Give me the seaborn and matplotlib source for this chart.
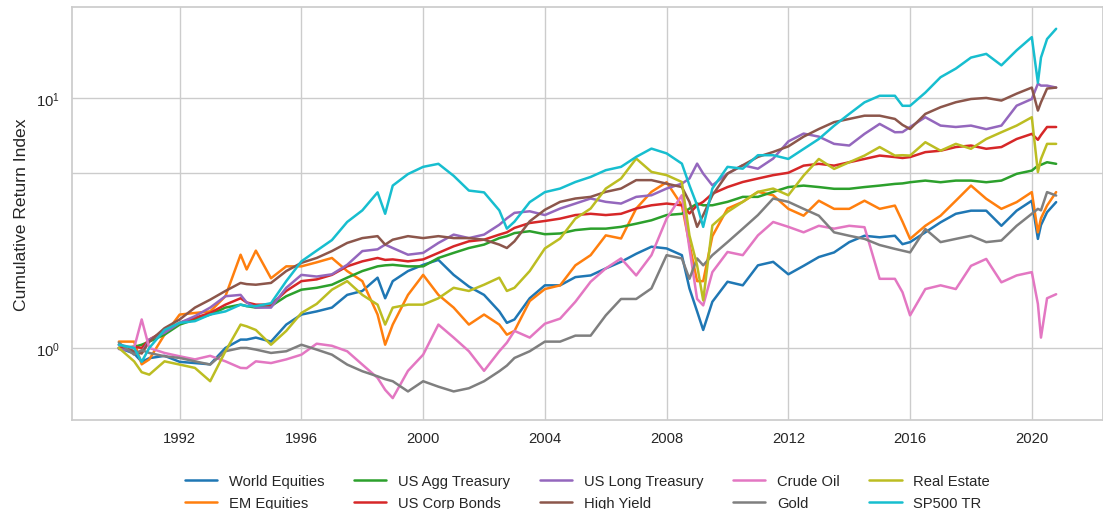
import pandas as pd
import seaborn as sns
import matplotlib.pyplot as plt
import matplotlib.dates as mdates
from matplotlib.ticker import FixedLocator, NullFormatter

# sample dates (decimal years)
years = [1990.0, 1990.5, 1990.75, 1991.0, 1991.5, 1992.0, 1992.5, 1993.0, 1993.5,
         1994.0, 1994.2, 1994.5, 1995.0, 1995.5, 1996.0, 1996.5, 1997.0, 1997.5, 1998.0,
         1998.5, 1998.75, 1999.0, 1999.5, 2000.0, 2000.5, 2001.0, 2001.5, 2002.0, 2002.5, 2002.75,
         2003.0, 2003.5, 2004.0, 2004.5, 2005.0, 2005.5, 2006.0, 2006.5, 2007.0, 2007.5, 2008.0, 2008.5,
         2008.75, 2009.0, 2009.2, 2009.5, 2010.0, 2010.5, 2011.0, 2011.5, 2012.0, 2012.5,
         2013.0, 2013.5, 2014.0, 2014.5, 2015.0, 2015.5, 2015.75, 2016.0, 2016.5, 2017.0, 2017.5,
         2018.0, 2018.5, 2019.0, 2019.5, 2020.0, 2020.2, 2020.3, 2020.5, 2020.8]

world_equities = [1.00, 0.95, 0.88, 0.91, 0.93, 0.88, 0.87, 0.86, 1.00,
                  1.08, 1.08, 1.10, 1.06, 1.24, 1.36, 1.40, 1.45, 1.63, 1.69,
                  1.91, 1.58, 1.85, 2.03, 2.15, 2.25, 1.96, 1.76, 1.63, 1.40, 1.26,
                  1.30, 1.58, 1.78, 1.78, 1.92, 1.95, 2.08, 2.21, 2.38, 2.54, 2.50, 2.35,
                  1.73, 1.40, 1.18, 1.53, 1.84, 1.78, 2.14, 2.21, 1.97, 2.13,
                  2.31, 2.41, 2.65, 2.81, 2.77, 2.81, 2.60, 2.65, 2.90, 3.18, 3.44,
                  3.54, 3.54, 3.08, 3.54, 3.88, 2.73, 3.10, 3.49, 3.83]
em_equities = [1.06, 1.06, 0.86, 0.90, 1.13, 1.36, 1.38, 1.40, 1.61,
               2.36, 2.06, 2.45, 1.90, 2.12, 2.12, 2.20, 2.29, 2.03, 1.85,
               1.36, 1.03, 1.24, 1.63, 1.96, 1.63, 1.45, 1.24, 1.36, 1.24, 1.13,
               1.17, 1.54, 1.72, 1.78, 2.14, 2.35, 2.82, 2.74, 3.61, 4.21, 4.60, 3.72,
               2.60, 1.85, 1.85, 2.80, 3.61, 3.84, 4.21, 4.08, 3.60, 3.38,
               3.88, 3.60, 3.60, 3.88, 3.60, 3.71, 3.20, 2.73, 3.08, 3.38, 3.88,
               4.46, 3.95, 3.60, 3.83, 4.20, 2.90, 3.30, 3.71, 4.20]
us_agg_treasury = [1.00, 1.01, 1.03, 1.06, 1.13, 1.24, 1.30, 1.36, 1.45,
                   1.49, 1.47, 1.45, 1.47, 1.61, 1.71, 1.74, 1.79, 1.91, 2.03,
                   2.12, 2.14, 2.15, 2.12, 2.12, 2.29, 2.40, 2.51, 2.59, 2.75, 2.80,
                   2.88, 2.93, 2.85, 2.87, 2.96, 3.00, 3.00, 3.05, 3.14, 3.24, 3.40, 3.44,
                   3.61, 3.78, 3.72, 3.72, 3.84, 4.02, 4.02, 4.21, 4.40, 4.46,
                   4.40, 4.33, 4.33, 4.40, 4.46, 4.53, 4.55, 4.60, 4.67, 4.60, 4.67,
                   4.67, 4.60, 4.67, 4.97, 5.12, 5.36, 5.40, 5.53, 5.45]
us_corp_bonds = [1.00, 1.01, 1.00, 1.08, 1.17, 1.26, 1.32, 1.38, 1.49,
                 1.58, 1.52, 1.49, 1.49, 1.69, 1.85, 1.88, 1.96, 2.12, 2.22,
                 2.29, 2.25, 2.26, 2.22, 2.26, 2.40, 2.55, 2.67, 2.71, 2.84, 2.90,
                 3.02, 3.16, 3.22, 3.29, 3.40, 3.44, 3.40, 3.44, 3.61, 3.72, 3.78, 3.72,
                 3.45, 3.72, 3.84, 4.14, 4.40, 4.61, 4.76, 4.91, 5.02, 5.36,
                 5.45, 5.36, 5.53, 5.70, 5.88, 5.80, 5.75, 5.80, 6.07, 6.15, 6.36,
                 6.45, 6.26, 6.36, 6.85, 7.18, 6.80, 7.10, 7.65, 7.65]
us_long_treasury = [0.99, 0.97, 0.955, 1.08, 1.15, 1.26, 1.34, 1.45, 1.61,
                    1.63, 1.52, 1.45, 1.45, 1.74, 1.96, 1.93, 1.97, 2.15, 2.44,
                    2.48, 2.59, 2.51, 2.36, 2.40, 2.63, 2.84, 2.75, 2.84, 3.11, 3.30,
                    3.47, 3.52, 3.40, 3.61, 3.78, 3.96, 3.84, 3.78, 4.02, 4.08, 4.34, 4.54,
                    4.76, 5.46, 4.98, 4.47, 4.98, 5.38, 5.21, 5.72, 6.70, 7.20,
                    7.00, 6.55, 6.45, 7.18, 7.87, 7.29, 7.30, 7.65, 8.37, 7.75, 7.65,
                    7.75, 7.50, 7.75, 9.31, 9.90, 11.4, 11.2, 11.2, 11.0]
high_yield = [1.03, 0.97, 0.95, 1.06, 1.20, 1.30, 1.45, 1.56, 1.69,
              1.82, 1.80, 1.79, 1.82, 2.03, 2.19, 2.29, 2.44, 2.63, 2.75,
              2.80, 2.59, 2.71, 2.80, 2.75, 2.80, 2.75, 2.75, 2.71, 2.59, 2.51,
              2.67, 3.21, 3.57, 3.84, 3.96, 4.02, 4.21, 4.34, 4.69, 4.69, 4.54, 4.40,
              3.84, 3.05, 3.40, 4.08, 4.98, 5.38, 5.81, 6.08, 6.40, 7.00,
              7.51, 8.00, 8.24, 8.49, 8.49, 8.24, 7.80, 7.51, 8.63, 9.18, 9.61,
              9.90, 10.0, 9.76, 10.4, 11.0, 8.90, 9.60, 10.9, 11.0]
crude_oil = [1.03, 1.00, 1.30, 1.00, 0.955, 0.926, 0.90, 0.93, 0.884,
             0.832, 0.83, 0.884, 0.87, 0.90, 0.94, 1.04, 1.02, 0.97, 0.858,
             0.759, 0.68, 0.63, 0.81, 0.94, 1.24, 1.10, 0.97, 0.81, 0.97, 1.05,
             1.17, 1.10, 1.25, 1.31, 1.53, 1.84, 2.08, 2.28, 1.95, 2.35, 3.29, 4.08,
             2.50, 1.57, 1.48, 2.01, 2.42, 2.35, 2.82, 3.19, 3.05, 2.90,
             3.08, 3.00, 3.08, 3.04, 1.89, 1.89, 1.67, 1.35, 1.72, 1.78, 1.72,
             2.13, 2.27, 1.83, 1.95, 2.01, 1.50, 1.10, 1.58, 1.64]
gold = [1.05, 0.94, 0.98, 0.955, 0.926, 0.912, 0.884, 0.858, 0.97,
        1.00, 1.00, 0.985, 0.955, 0.97, 1.03, 0.985, 0.94, 0.858, 0.807,
        0.77, 0.75, 0.736, 0.67, 0.736, 0.70, 0.67, 0.69, 0.736, 0.807, 0.85,
        0.912, 0.97, 1.06, 1.06, 1.12, 1.12, 1.35, 1.57, 1.57, 1.73, 2.35, 2.28,
        1.89, 2.28, 2.14, 2.35, 2.65, 3.00, 3.40, 3.96, 3.84, 3.60,
        3.38, 2.90, 2.81, 2.73, 2.58, 2.49, 2.45, 2.41, 2.99, 2.65, 2.73,
        2.81, 2.65, 2.69, 3.08, 3.44, 3.60, 3.55, 4.20, 4.07]
real_estate = [1.00, 0.884, 0.80, 0.782, 0.884, 0.858, 0.832, 0.736, 0.97,
               1.24, 1.22, 1.18, 1.03, 1.17, 1.38, 1.50, 1.71, 1.85, 1.63,
               1.49, 1.24, 1.45, 1.49, 1.49, 1.58, 1.74, 1.69, 1.79, 1.91, 1.69,
               1.74, 2.03, 2.50, 2.74, 3.29, 3.61, 4.34, 4.76, 5.72, 5.06, 4.91, 4.61,
               2.82, 2.14, 1.55, 3.09, 3.50, 3.84, 4.21, 4.34, 4.08, 4.89,
               5.70, 5.20, 5.53, 5.88, 6.36, 5.88, 5.90, 5.88, 6.65, 6.15, 6.55,
               6.26, 6.85, 7.29, 7.75, 8.37, 5.05, 5.70, 6.55, 6.55]
sp500_tr = [1.03, 1.00, 0.88, 1.00, 1.18, 1.26, 1.28, 1.36, 1.40,
            1.49, 1.47, 1.47, 1.51, 1.85, 2.22, 2.45, 2.70, 3.19, 3.55,
            4.19, 3.44, 4.46, 4.96, 5.30, 5.45, 4.88, 4.26, 4.19, 3.55, 3.00,
            3.20, 3.83, 4.20, 4.34, 4.61, 4.83, 5.14, 5.30, 5.81, 6.27, 6.00, 5.46,
            4.47, 3.72, 3.05, 4.34, 5.30, 5.21, 5.90, 5.90, 5.70, 6.25,
            6.85, 7.74, 8.63, 9.60, 10.2, 10.2, 9.30, 9.30, 10.5, 12.1, 13.1,
            14.5, 15.0, 13.5, 15.5, 17.5, 11.5, 14.5, 17.2, 18.9]

names = ['World Equities', 'EM Equities', 'US Agg Treasury', 'US Corp Bonds',
         'US Long Treasury', 'High Yield', 'Crude Oil', 'Gold', 'Real Estate', 'SP500 TR']
series = [world_equities, em_equities, us_agg_treasury, us_corp_bonds,
          us_long_treasury, high_yield, crude_oil, gold, real_estate, sp500_tr]

dates = [pd.Timestamp(int(y), 1, 1) + pd.Timedelta(days=round((y - int(y)) * 365.25)) for y in years]
df = pd.concat([pd.DataFrame({'Date': dates, 'Asset': n, 'Index': v})
                for n, v in zip(names, series)], ignore_index=True)

sns.set_theme(style='whitegrid')
plt.rcParams['font.family'] = ['Liberation Sans', 'DejaVu Sans']
plt.rcParams['xtick.labelsize'] = 10.6
plt.rcParams['ytick.labelsize'] = 10.6
plt.rcParams['legend.fontsize'] = 10.6

fig = plt.figure(figsize=(11.03, 5.10), dpi=100)
ax = fig.add_axes([72 / 1103, 89 / 510, 1031 / 1103, 413 / 510])

sns.lineplot(data=df, x='Date', y='Index', hue='Asset', hue_order=names,
             palette='tab10', linewidth=1.8, ax=ax)

ax.set_yscale('log')
ax.set_ylim(0.515, 23.1)
ax.yaxis.set_minor_locator(FixedLocator([5]))
ax.yaxis.set_minor_formatter(NullFormatter())
ax.yaxis.grid(True, which='minor')
ax.xaxis.set_major_locator(mdates.YearLocator(4))
ax.xaxis.set_major_formatter(mdates.DateFormatter('%Y'))
ax.tick_params(which='both', length=0)
ax.tick_params(axis='y', pad=9)
ax.tick_params(axis='x', pad=8)
ax.set_xlabel('')
ax.set_ylabel('Cumulative Return Index', fontsize=12.6, labelpad=4.5)

sns.move_legend(ax, 'upper center', bbox_to_anchor=(0.5, -0.098), ncol=5,
                title=None, frameon=False, handlelength=2.2,
                columnspacing=2.0, labelspacing=0.55)

fig.savefig('out.png', dpi=100)
